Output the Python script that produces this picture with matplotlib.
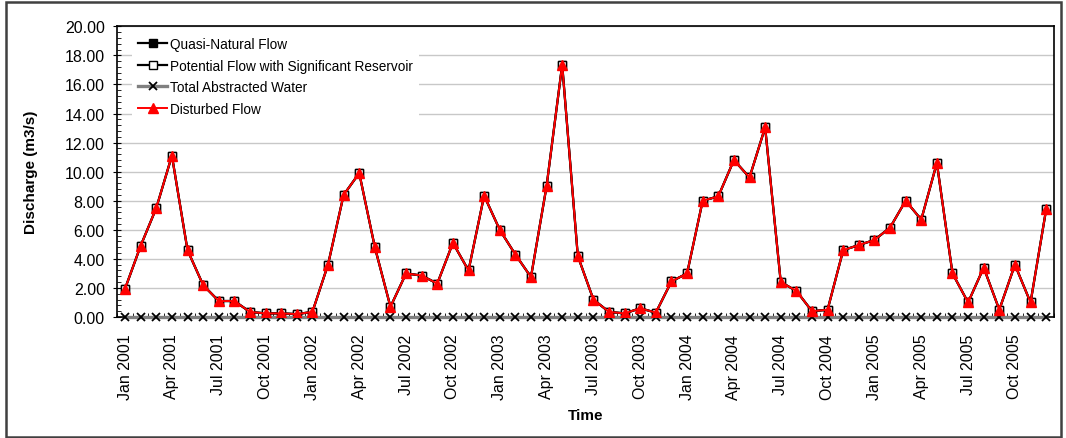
import matplotlib.pyplot as plt
from matplotlib.patches import Rectangle
from matplotlib.ticker import MultipleLocator, FixedLocator

plt.rcParams['font.family'] = ['Liberation Sans', 'DejaVu Sans']

meses = ["Jan", "Feb", "Mar", "Apr", "May", "Jun", "Jul", "Aug", "Sep", "Oct", "Nov", "Dec"]
anos = [2001, 2002, 2003, 2004, 2005]
rotulos = [f"{m} {a}" for a in anos for m in meses]

# vazoes (m3/s)
quasi_natural = [1.95, 4.9, 7.5, 11.1, 4.6, 2.2, 1.1, 1.1, 0.35, 0.25, 0.25, 0.2,
                 0.35, 3.6, 8.4, 9.9, 4.8, 0.7, 3.0, 2.85, 2.3, 5.1, 3.2, 8.35,
                 6.0, 4.3, 2.75, 9.0, 17.35, 4.2, 1.2, 0.35, 0.25, 0.6, 0.3, 2.45,
                 3.0, 8.0, 8.3, 10.8, 9.6, 13.05, 2.4, 1.8, 0.4, 0.5, 4.6, 4.95,
                 5.3, 6.15, 8.0, 6.7, 10.6, 3.0, 1.0, 3.4, 0.5, 3.6, 1.0, 7.4]
potencial = quasi_natural
abstraida = [0.0] * 60
perturbada = quasi_natural

x = list(range(len(rotulos)))

fig = plt.figure(figsize=(10.66, 4.39), dpi=100)
ax = fig.add_axes([0.110, 0.2756, 0.8787, 0.6622])

ax.plot(x, quasi_natural, color="black", lw=1.6, marker="s", ms=5.5,
        mfc="black", mec="black", label="Quasi-Natural Flow", zorder=3)
ax.plot(x, potencial, color="black", lw=1.6, marker="s", ms=5.5,
        mfc="white", mec="black", label="Potential Flow with Significant Reservoir", zorder=4)
ax.plot(x, abstraida, color="#808080", lw=2.4, marker="x", ms=6, mew=1.3,
        mec="black", label="Total Abstracted Water", zorder=5, clip_on=False)
ax.plot(x, perturbada, color="red", lw=1.4, marker="^", ms=6.5,
        mfc="red", mec="red", label="Disturbed Flow", zorder=6)

ax.set_xlim(-0.5, 59.5)
ax.set_ylim(0, 20)
ax.yaxis.set_major_locator(MultipleLocator(2))
ax.yaxis.set_minor_locator(MultipleLocator(0.4))
ax.set_yticklabels([f"{v:.2f}" for v in ax.get_yticks()])
ax.tick_params(axis="y", which="major", direction="inout", length=6, labelsize=11.5, pad=6)
ax.tick_params(axis="y", which="minor", direction="in", length=3)

ax.set_xticks(x[::3])
ax.set_xticklabels(rotulos[::3], rotation=90, fontsize=11.5)
ax.xaxis.set_minor_locator(FixedLocator([i + 0.5 for i in range(-1, 60)]))
ax.tick_params(axis="x", which="major", length=0, pad=12)
ax.tick_params(axis="x", which="minor", direction="in", length=3)

ax.grid(axis="y", color="#c8c8c8", lw=1.0)
ax.set_axisbelow(True)
for s in ax.spines.values():
    s.set_linewidth(1.2)

ax.set_ylabel("Discharge (m3/s)", fontsize=11, fontweight="bold", labelpad=19)
ax.set_xlabel("Time", fontsize=11, fontweight="bold", labelpad=6)

leg = ax.legend(loc="upper left", bbox_to_anchor=(0.011, 1.0), fontsize=9.8,
                frameon=True, facecolor="white", edgecolor="none", framealpha=1,
                handlelength=2.1, handletextpad=0.2, labelspacing=0.55,
                borderaxespad=0.3, borderpad=0.5, fancybox=False)
leg.set_zorder(10)

# moldura externa
fig.patches.append(Rectangle((6 / 1066, 1.5 / 439), 1055 / 1066, 434.5 / 439,
                             transform=fig.transFigure, fill=False,
                             edgecolor="#404040", lw=1.8))

fig.savefig("out.png", dpi=100)
